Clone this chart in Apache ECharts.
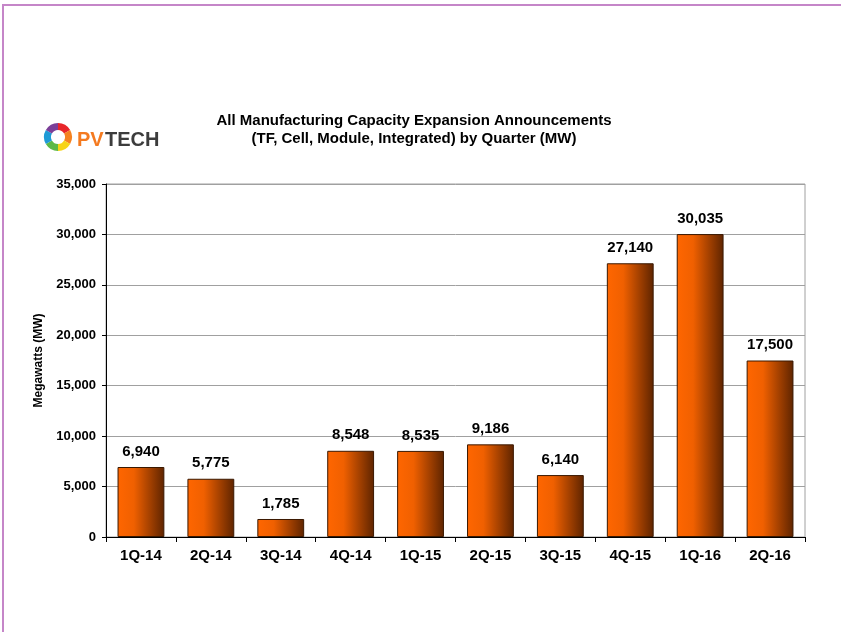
<!DOCTYPE html>
<html>
<head>
<meta charset="utf-8">
<script src="https://cdn.jsdelivr.net/npm/echarts@6/dist/echarts.min.js"></script>
<style>html,body{margin:0;padding:0;background:#fff}#c{width:841px;height:632px}</style>
</head>
<body>
<div id="c"></div>
<script>
var categories = ['1Q-14','2Q-14','3Q-14','4Q-14','1Q-15','2Q-15','3Q-15','4Q-15','1Q-16','2Q-16'];
var capacity = [6940, 5775, 1785, 8548, 8535, 9186, 6140, 27140, 30035, 17500];
var yTicks = [0, 5000, 10000, 15000, 20000, 25000, 30000, 35000];

var FONT = '"Liberation Sans", Arial, sans-serif';
var chart = echarts.init(document.getElementById('c'));
function fmt(v){ return v.toLocaleString('en-US'); }

var ringColors = ['#e8262a','#f58220','#f7d417','#5cb947','#1e9ad6','#7b3f98'];
var ringEls = ringColors.map(function(c, i){
  return {
    type: 'sector',
    shape: { cx: 58, cy: 137, r: 14, r0: 7,
      startAngle: -Math.PI/2 + i*Math.PI/3, endAngle: -Math.PI/2 + (i+1)*Math.PI/3 },
    style: { fill: c }
  };
});

chart.setOption({
  backgroundColor: '#ffffff',
  animation: false,
  title: {
    text: 'All Manufacturing Capacity Expansion Announcements\n(TF, Cell, Module, Integrated) by Quarter (MW)',
    left: 409, top: 107, textAlign: 'center',
    textStyle: { fontFamily: FONT, fontSize: 15, fontWeight: 'bold', color: '#000', lineHeight: 18 }
  },
  grid: { left: 106, right: 36, top: 184, bottom: 95, show: true, borderColor: '#a0a0a0', borderWidth: 1, containLabel: false },
  xAxis: {
    type: 'category', data: categories,
    axisLine: { lineStyle: { color: '#000', width: 1 } },
    axisTick: { show: true, alignWithLabel: false, length: 5, lineStyle: { color: '#000' } },
    axisLabel: { fontFamily: FONT, fontSize: 15, fontWeight: 'bold', color: '#000', margin: 11 }
  },
  yAxis: {
    type: 'value', min: yTicks[0], max: yTicks[yTicks.length-1], interval: 5000,
    name: 'Megawatts (MW)', nameLocation: 'middle', nameGap: 61, nameRotate: 90,
    nameTextStyle: { fontFamily: FONT, fontSize: 12, fontWeight: 'bold', color: '#000' },
    axisLine: { show: true, lineStyle: { color: '#000', width: 1 } },
    axisTick: { show: true, length: 4, lineStyle: { color: '#000' } },
    splitLine: { lineStyle: { color: '#a0a0a0', width: 1 } },
    axisLabel: { fontFamily: FONT, fontSize: 13, fontWeight: 'bold', color: '#000', margin: 10, formatter: function(v){ return fmt(v); } }
  },
  series: [{
    type: 'bar', data: capacity, barWidth: '67%',
    itemStyle: {
      color: new echarts.graphic.LinearGradient(0, 0, 1, 0, [
        { offset: 0, color: '#ff6600' },
        { offset: 0.35, color: '#f06000' },
        { offset: 1, color: '#5e2400' }
      ]),
      borderColor: '#3a1800', borderWidth: 1
    },
    label: { show: true, position: 'top', distance: 8, fontFamily: FONT, fontSize: 15, fontWeight: 'bold', color: '#000',
      formatter: function(p){ return fmt(p.value); } }
  }],
  graphic: [
    { type: 'line', shape: { x1: 2, y1: 5, x2: 841, y2: 5 }, style: { stroke: '#c586c8', lineWidth: 2 } },
    { type: 'line', shape: { x1: 3, y1: 4, x2: 3, y2: 632 }, style: { stroke: '#c586c8', lineWidth: 2 } }
  ].concat(ringEls).concat([
    { type: 'text', style: { text: 'PV', x: 77, y: 140, verticalAlign: 'middle', font: 'bold 20px ' + FONT, fill: '#f47a20' } },
    { type: 'text', style: { text: 'TECH', x: 105, y: 140, verticalAlign: 'middle', font: 'bold 20px ' + FONT, fill: '#3c3c3c' } }
  ])
});
</script>
</body>
</html>
